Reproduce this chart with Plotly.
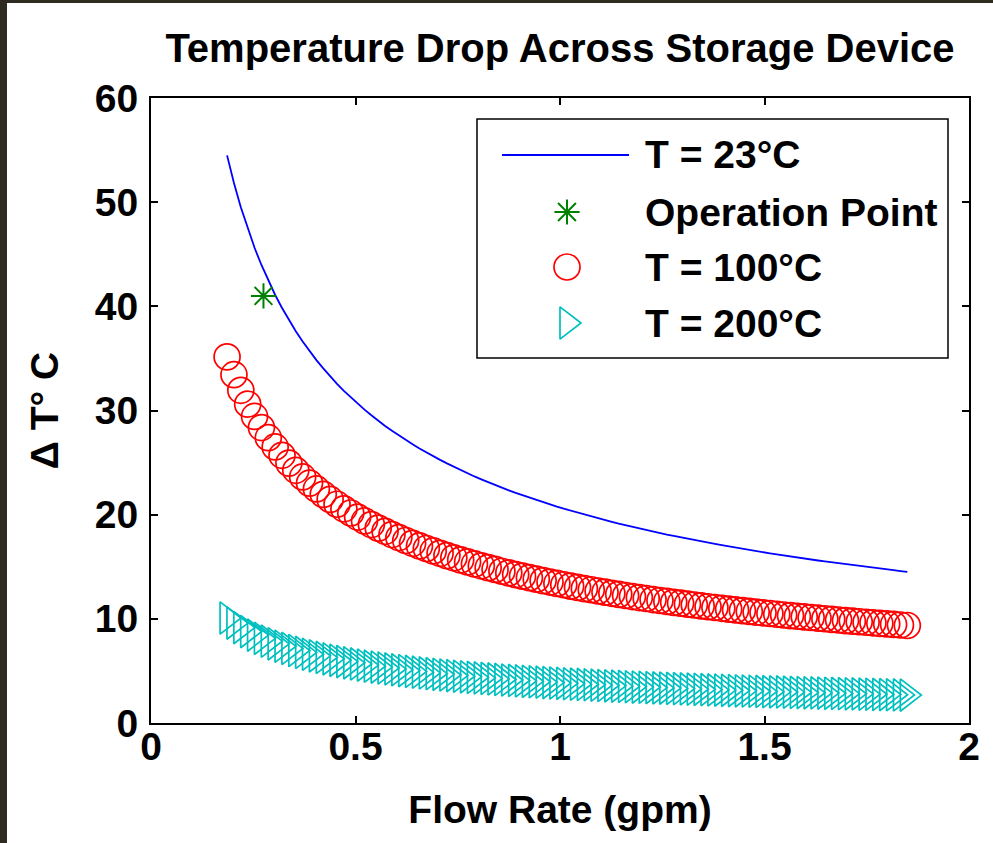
import plotly.graph_objects as go

# ---- data ----
flow_rate = [0.186, 0.2028, 0.2196, 0.2364, 0.2532, 0.27, 0.2868, 0.3036, 0.3204, 0.3372,
             0.354, 0.3708, 0.3876, 0.4044, 0.4212, 0.438, 0.4548, 0.4716, 0.4884, 0.5052,
             0.522, 0.5388, 0.5556, 0.5724, 0.5892, 0.606, 0.6228, 0.6396, 0.6564, 0.6732,
             0.69, 0.7068, 0.7236, 0.7404, 0.7572, 0.774, 0.7908, 0.8076, 0.8244, 0.8412,
             0.858, 0.8748, 0.8916, 0.9084, 0.9252, 0.942, 0.9588, 0.9756, 0.9924, 1.0092,
             1.026, 1.0428, 1.0596, 1.0764, 1.0932, 1.11, 1.1268, 1.1436, 1.1604, 1.1772,
             1.194, 1.2108, 1.2276, 1.2444, 1.2612, 1.278, 1.2948, 1.3116, 1.3284, 1.3452,
             1.362, 1.3788, 1.3956, 1.4124, 1.4292, 1.446, 1.4628, 1.4796, 1.4964, 1.5132,
             1.53, 1.5468, 1.5636, 1.5804, 1.5972, 1.614, 1.6308, 1.6476, 1.6644, 1.6812,
             1.698, 1.7148, 1.7316, 1.7484, 1.7652, 1.782, 1.7988, 1.8156, 1.8324, 1.8492]

dT_23C = [54.49, 51.84, 49.52, 47.46, 45.62, 43.97, 42.46, 41.09, 39.84, 38.68,
          37.61, 36.62, 35.70, 34.84, 34.04, 33.27, 32.56, 31.88, 31.25, 30.65,
          30.08, 29.54, 29.01, 28.52, 28.05, 27.60, 27.16, 26.75, 26.36, 25.97,
          25.61, 25.26, 24.92, 24.59, 24.27, 23.97, 23.67, 23.39, 23.11, 22.85,
          22.59, 22.34, 22.09, 21.86, 21.63, 21.41, 21.19, 20.98, 20.77, 20.57,
          20.38, 20.19, 20.00, 19.82, 19.65, 19.48, 19.31, 19.14, 18.98, 18.83,
          18.67, 18.52, 18.38, 18.23, 18.09, 17.96, 17.82, 17.69, 17.56, 17.43,
          17.31, 17.19, 17.07, 16.95, 16.84, 16.72, 16.61, 16.50, 16.40, 16.29,
          16.19, 16.08, 15.99, 15.89, 15.79, 15.70, 15.60, 15.51, 15.42, 15.33,
          15.24, 15.16, 15.07, 14.99, 14.91, 14.83, 14.75, 14.67, 14.59, 14.51]

dT_100C = [35.15, 33.44, 31.94, 30.61, 29.43, 28.36, 27.39, 26.50, 25.70, 24.95,
           24.26, 23.62, 23.03, 22.47, 21.95, 21.46, 21.00, 20.56, 20.16, 19.77,
           19.40, 19.05, 18.71, 18.40, 18.09, 17.80, 17.52, 17.25, 17.00, 16.75,
           16.52, 16.29, 16.07, 15.86, 15.66, 15.46, 15.27, 15.09, 14.91, 14.74,
           14.57, 14.41, 14.25, 14.10, 13.95, 13.81, 13.67, 13.53, 13.40, 13.27,
           13.14, 13.02, 12.90, 12.79, 12.67, 12.56, 12.45, 12.35, 12.24, 12.14,
           12.04, 11.95, 11.85, 11.76, 11.67, 11.58, 11.50, 11.41, 11.33, 11.24,
           11.16, 11.09, 11.01, 10.93, 10.86, 10.79, 10.71, 10.64, 10.58, 10.51,
           10.44, 10.37, 10.31, 10.25, 10.19, 10.13, 10.06, 10.01, 9.95, 9.89,
           9.83, 9.78, 9.72, 9.67, 9.62, 9.56, 9.51, 9.46, 9.41, 9.36]

dT_200C = [10.08, 9.59, 9.16, 8.78, 8.44, 8.13, 7.86, 7.60, 7.37, 7.16,
           6.96, 6.78, 6.60, 6.45, 6.30, 6.16, 6.02, 5.90, 5.78, 5.67,
           5.56, 5.46, 5.37, 5.28, 5.19, 5.11, 5.03, 4.95, 4.88, 4.81,
           4.74, 4.67, 4.61, 4.55, 4.49, 4.43, 4.38, 4.33, 4.28, 4.23,
           4.18, 4.13, 4.09, 4.04, 4.00, 3.96, 3.92, 3.88, 3.84, 3.81,
           3.77, 3.73, 3.70, 3.67, 3.63, 3.60, 3.57, 3.54, 3.51, 3.48,
           3.45, 3.43, 3.40, 3.37, 3.35, 3.32, 3.30, 3.27, 3.25, 3.23,
           3.20, 3.18, 3.16, 3.14, 3.11, 3.09, 3.07, 3.05, 3.03, 3.01,
           2.99, 2.98, 2.96, 2.94, 2.92, 2.90, 2.89, 2.87, 2.85, 2.84,
           2.82, 2.80, 2.79, 2.77, 2.76, 2.74, 2.73, 2.71, 2.70, 2.68]

op_flow = [0.275]
op_dT = [41.0]

x_ticks = [0, 0.5, 1, 1.5, 2]
x_tick_labels = ["0", "0.5", "1", "1.5", "2"]
y_ticks = [0, 10, 20, 30, 40, 50, 60]
y_tick_labels = ["0", "10", "20", "30", "40", "50", "60"]

series_names = ["T = 23°C", "Operation Point", "T = 100°C", "T = 200°C"]

# ---- styles ----
BLUE = "#0000ff"
GREEN = "#008000"
RED = "#ff0000"
CYAN = "#00bfbf"
FONT = "Liberation Sans, Arial, Helvetica, sans-serif"
FS = 39

W, H = 993, 843
L, R, T, B = 151, 24, 98, 120
PW, PH = W - L - R, H - T - B


def px(xp):
    return (xp - L) / PW


def py(yp):
    return (H - B - yp) / PH


def bold(s):
    return "<b>" + s + "</b>"


fig = go.Figure()

fig.add_trace(go.Scatter(x=flow_rate, y=dT_23C, mode="lines", name=series_names[0],
                         line=dict(color=BLUE, width=1.8), showlegend=False))
fig.add_trace(go.Scatter(x=op_flow, y=op_dT, mode="markers", name=series_names[1],
                         marker=dict(symbol="asterisk-open", size=21, color=GREEN,
                                     line=dict(color=GREEN, width=2)), showlegend=False))
fig.add_trace(go.Scatter(x=flow_rate, y=dT_100C, mode="markers", name=series_names[2],
                         marker=dict(symbol="circle-open", size=26, color=RED,
                                     line=dict(color=RED, width=1.7)), showlegend=False))
fig.add_trace(go.Scatter(x=flow_rate, y=dT_200C, mode="markers", name=series_names[3],
                         marker=dict(symbol="triangle-right-open", size=28, color=CYAN,
                                     line=dict(color=CYAN, width=1.7)), showlegend=False))

# ---- custom legend (MATLAB style) ----
leg_x0, leg_x1 = px(477), px(948)
leg_y0, leg_y1 = py(358), py(119)
row_y = [155, 212, 267, 323]
sym_x = px(567)
text_x = px(643)

shapes = [
    dict(type="rect", xref="paper", yref="paper", x0=leg_x0, x1=leg_x1, y0=leg_y0, y1=leg_y1,
         line=dict(color="black", width=1.5), fillcolor="rgba(0,0,0,0)", layer="above"),
    dict(type="line", xref="paper", yref="paper", x0=px(502), x1=px(629),
         y0=py(row_y[0]), y1=py(row_y[0]), line=dict(color=BLUE, width=1.8), layer="above"),
    # dark window frame at left / top edge of screenshot
    dict(type="rect", xref="paper", yref="paper", x0=px(0), x1=px(7), y0=py(H), y1=py(0),
         line=dict(width=0), fillcolor="#2f2b21", layer="above"),
    dict(type="rect", xref="paper", yref="paper", x0=px(0), x1=px(W), y0=py(3), y1=py(0),
         line=dict(width=0), fillcolor="#2f2b21", layer="above"),
]

# legend symbols on an overlay axis spanning the plot area in [0,1]
fig.add_trace(go.Scatter(x=[sym_x], y=[py(row_y[1])], mode="markers", xaxis="x2", yaxis="y2",
                         marker=dict(symbol="asterisk-open", size=21, color=GREEN,
                                     line=dict(color=GREEN, width=2)),
                         showlegend=False, hoverinfo="skip"))
fig.add_trace(go.Scatter(x=[sym_x], y=[py(row_y[2])], mode="markers", xaxis="x2", yaxis="y2",
                         marker=dict(symbol="circle-open", size=26, color=RED,
                                     line=dict(color=RED, width=1.7)),
                         showlegend=False, hoverinfo="skip"))
fig.add_trace(go.Scatter(x=[sym_x], y=[py(row_y[3])], mode="markers", xaxis="x2", yaxis="y2",
                         marker=dict(symbol="triangle-right-open", size=28, color=CYAN,
                                     line=dict(color=CYAN, width=1.7)),
                         showlegend=False, hoverinfo="skip"))

annotations = []
for name, yr in zip(series_names, row_y):
    annotations.append(dict(xref="paper", yref="paper", x=text_x, y=py(yr), text=bold(name),
                            showarrow=False, xanchor="left", yanchor="middle",
                            font=dict(family=FONT, size=FS, color="black")))

axis_common = dict(showline=True, linecolor="black", linewidth=2, mirror="allticks",
                   ticks="inside", ticklen=7, tickwidth=1.5, tickcolor="black",
                   showgrid=False, zeroline=False,
                   tickfont=dict(family=FONT, size=FS, color="black"))

fig.update_layout(
    width=W, height=H,
    margin=dict(l=L, r=R, t=T, b=B),
    paper_bgcolor="white", plot_bgcolor="white",
    title=dict(text=bold("Temperature Drop Across Storage Device"), x=0.5, xref="paper",
               y=1 - 48 / H, yanchor="middle", yref="container",
               font=dict(family=FONT, size=40, color="black")),
    xaxis=dict(range=[0, 2], tickvals=x_ticks, ticktext=[bold(t) for t in x_tick_labels],
               title=dict(text=bold("Flow Rate (gpm)"), font=dict(family=FONT, size=FS, color="black"),
                          standoff=29),
               ticklabelstandoff=-12, **axis_common),
    yaxis=dict(range=[0, 60], tickvals=y_ticks, ticktext=[bold(t) for t in y_tick_labels],
               title=dict(text=bold("Δ T° C"), font=dict(family=FONT, size=FS, color="black"),
                          standoff=24),
               ticklabelstandoff=3, **axis_common),
    xaxis2=dict(range=[0, 1], overlaying="x", visible=False, fixedrange=True),
    yaxis2=dict(range=[0, 1], overlaying="y", visible=False, fixedrange=True),
    shapes=shapes,
    annotations=annotations,
    showlegend=False,
)

fig.write_html("out.html")
